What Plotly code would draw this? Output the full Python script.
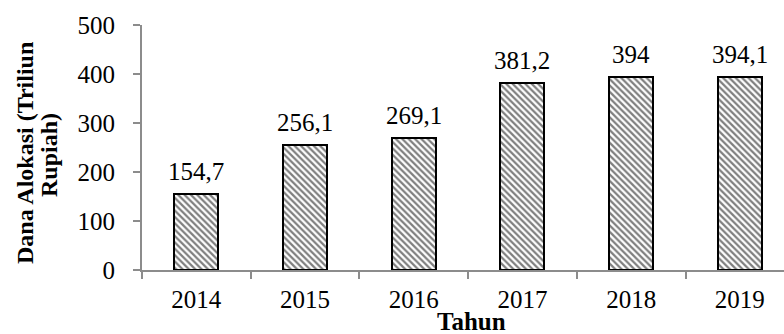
import plotly.graph_objects as go

years = ["2014", "2015", "2016", "2017", "2018", "2019"]
values = [154.7, 256.1, 269.1, 381.2, 394, 394.1]
labels = ["154,7", "256,1", "269,1", "381,2", "394", "394,1"]
y_ticks = [0, 100, 200, 300, 400, 500]

FONT = "Liberation Serif, Times New Roman, serif"
W, H = 784, 334
ML, MR, MT, MB = 142, 0, 25, 64
PW = W - ML - MR
PH = H - MT - MB
CAT_W = 108.7  # px per category

def px_to_paper_x(px):
    return (px - ML) / PW

def px_to_paper_y(py):
    return (H - MB - py) / PH

fig = go.Figure()
fig.add_trace(go.Bar(
    x=years, y=values, width=0.405,
    marker=dict(
        color="white",
        line=dict(color="black", width=2),
        pattern=dict(shape="\\", fgcolor="black", bgcolor="white", size=4.5, solidity=0.5),
    ),
    hoverinfo="skip",
))

annotations = []
for i, (v, t) in enumerate(zip(values, labels)):
    annotations.append(dict(
        x=i, y=v, xref="x", yref="y", text=t, showarrow=False,
        yanchor="bottom", xanchor="center", yshift=7,
        font=dict(family=FONT, size=25, color="black"),
    ))

annotations.append(dict(
    x=px_to_paper_x(25), y=px_to_paper_y(153), xref="paper", yref="paper",
    text="<b>Dana Alokasi (Triliun</b>", textangle=-90, showarrow=False,
    xanchor="center", yanchor="middle",
    font=dict(family=FONT, size=24, color="black"),
))
annotations.append(dict(
    x=px_to_paper_x(49), y=px_to_paper_y(155), xref="paper", yref="paper",
    text="<b>Rupiah)</b>", textangle=-90, showarrow=False,
    xanchor="center", yanchor="middle",
    font=dict(family=FONT, size=24, color="black"),
))
annotations.append(dict(
    x=px_to_paper_x(471), y=px_to_paper_y(322), xref="paper", yref="paper",
    text="<b>Tahun</b>", showarrow=False,
    xanchor="center", yanchor="middle",
    font=dict(family=FONT, size=25, color="black"),
))

x_end = -0.5 + PW / CAT_W

fig.update_layout(
    width=W, height=H,
    margin=dict(l=ML, r=MR, t=MT, b=MB, pad=0),
    paper_bgcolor="white", plot_bgcolor="white",
    showlegend=False,
    bargap=0,
    annotations=annotations,
    xaxis=dict(
        type="category", range=[-0.5, x_end],
        showline=True, linecolor="#8c8c8c", linewidth=2,
        ticks="outside", tickson="boundaries", ticklen=7, tickwidth=2, tickcolor="#8c8c8c",
        showgrid=False, zeroline=False,
        tickfont=dict(family=FONT, size=25, color="black"),
        ticklabelstandoff=6,
    ),
    yaxis=dict(
        range=[0, 500], tickvals=y_ticks, ticktext=[str(v) for v in y_ticks],
        showline=True, linecolor="#8c8c8c", linewidth=2,
        ticks="outside", ticklen=7, tickwidth=2, tickcolor="#8c8c8c",
        showgrid=False, zeroline=False,
        tickfont=dict(family=FONT, size=25, color="black"),
        ticklabelstandoff=13,
    ),
)

fig.write_html("out.html")
